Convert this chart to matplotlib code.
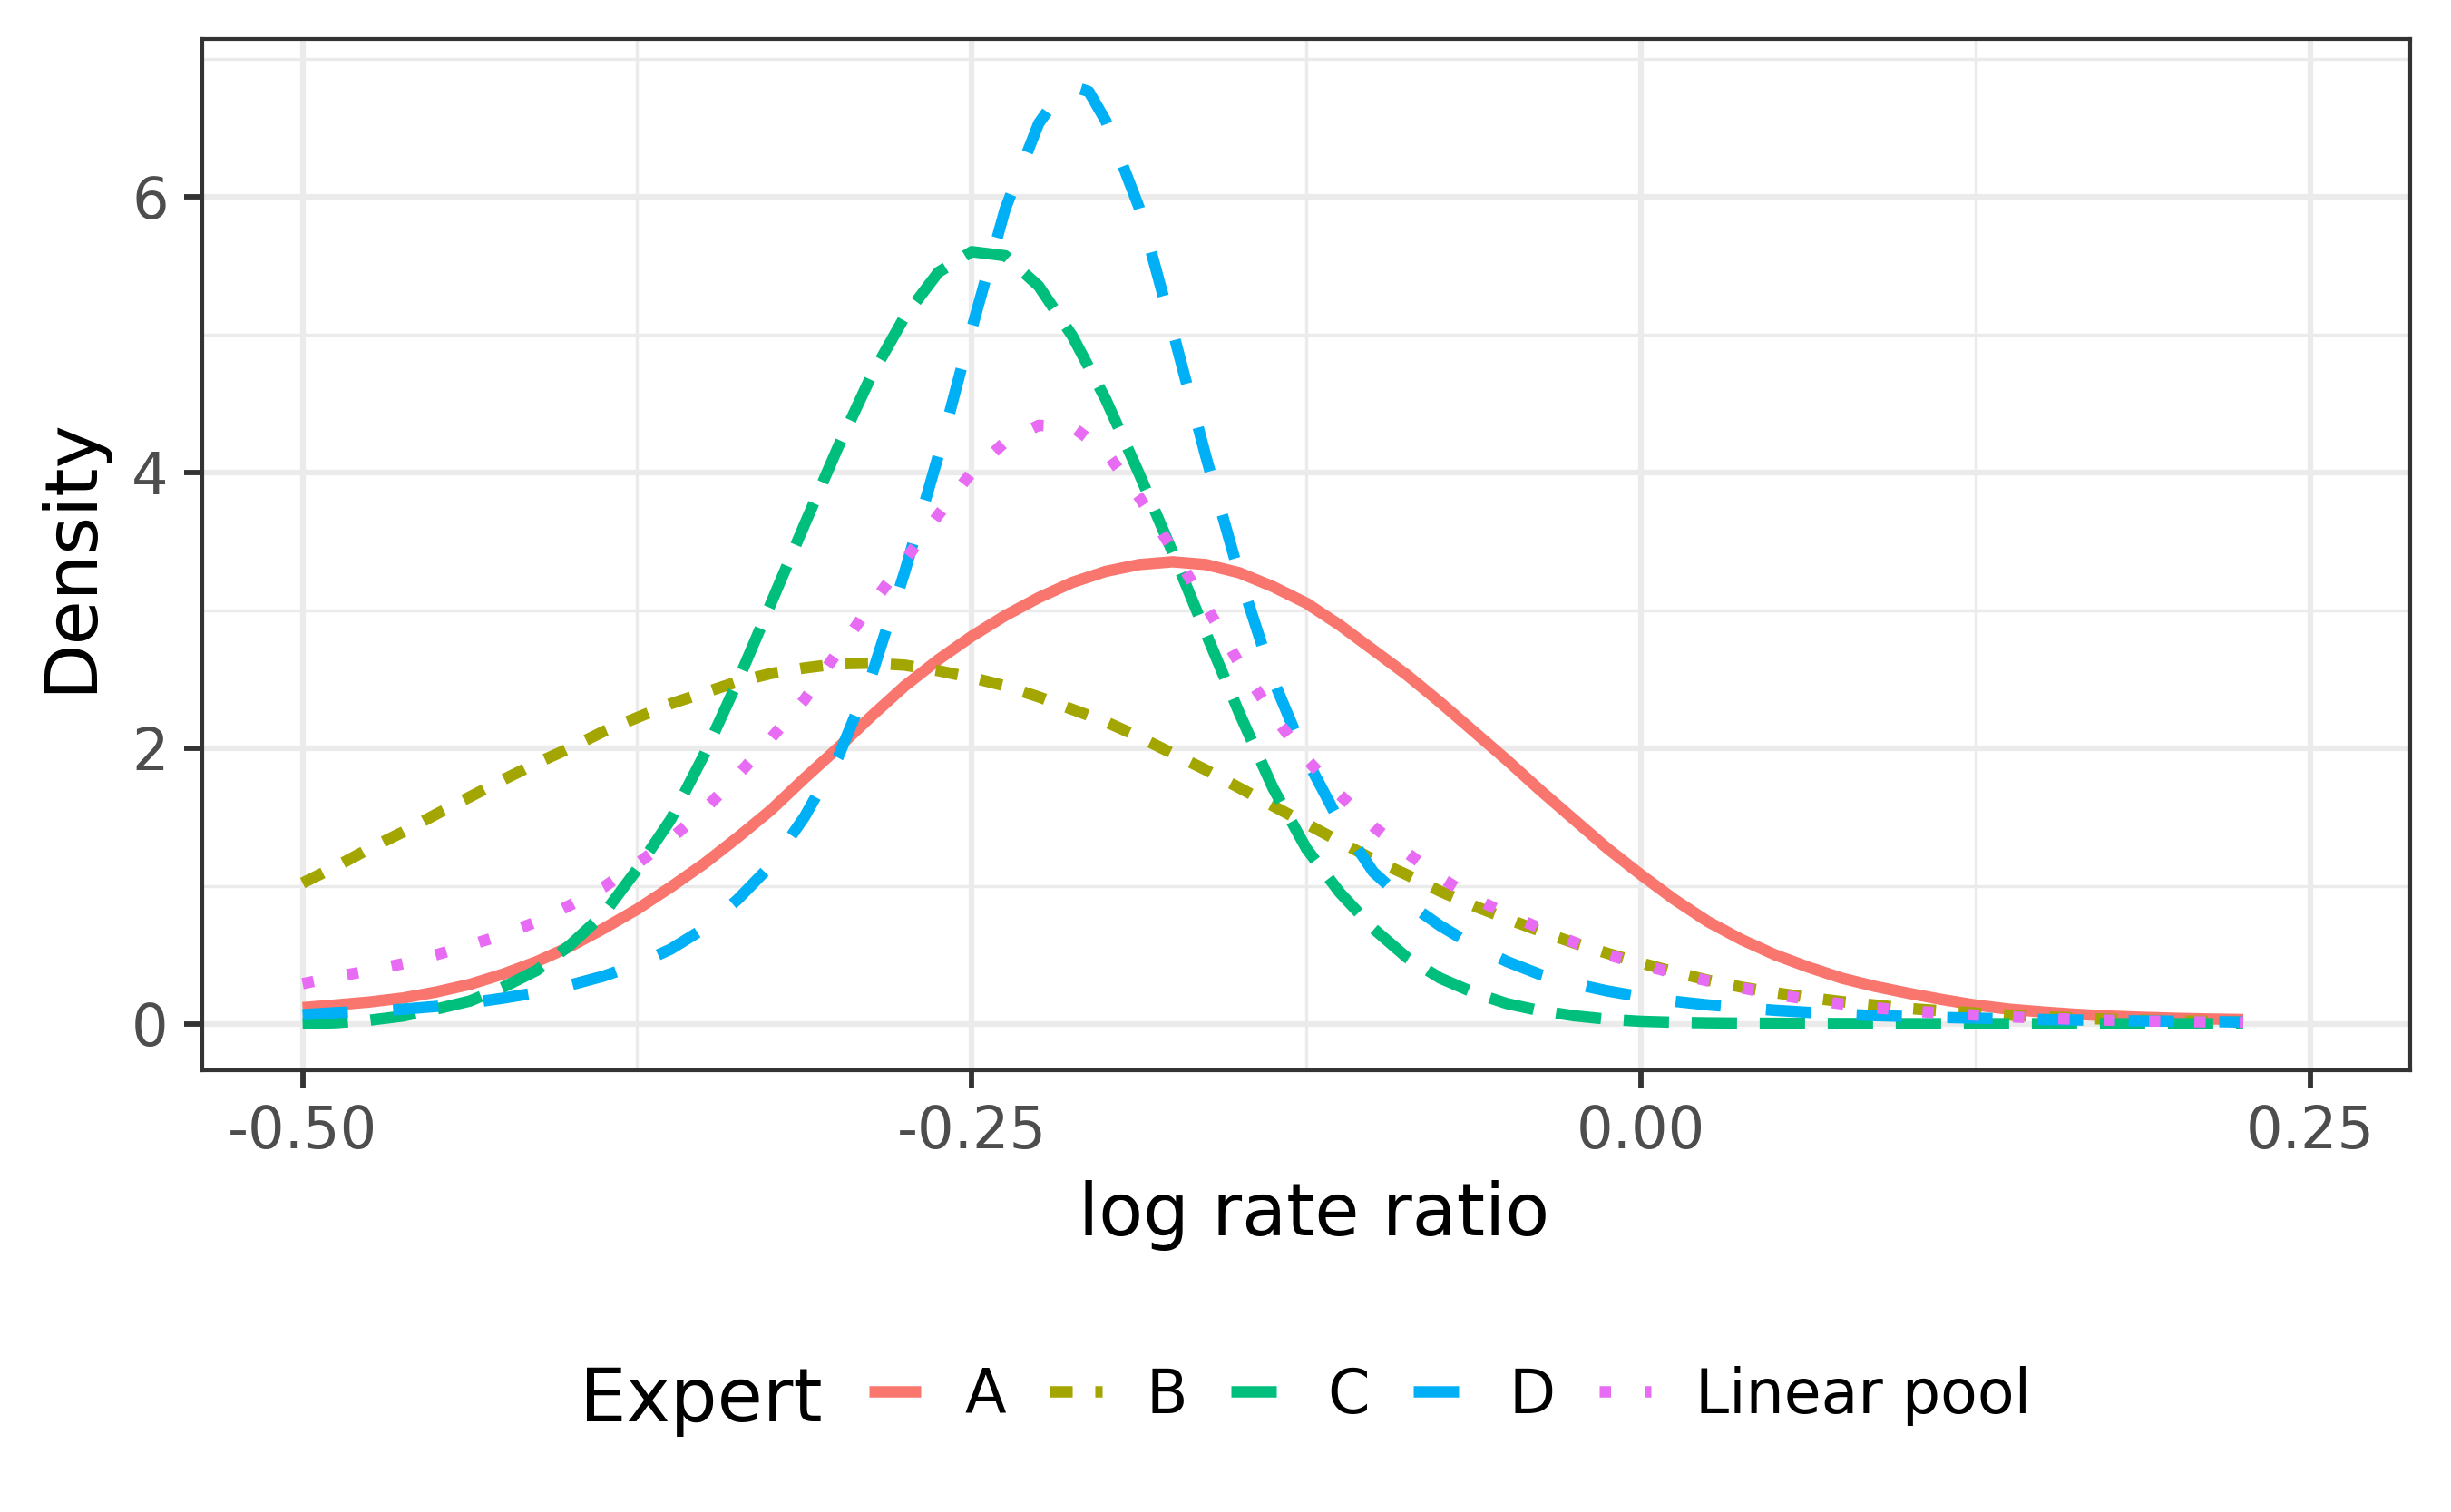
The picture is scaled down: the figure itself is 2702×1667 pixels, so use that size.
import matplotlib
matplotlib.use('Agg')
import matplotlib.pyplot as plt
from matplotlib.lines import Line2D

# values
x_grid = [-0.5, -0.4875, -0.475, -0.4625, -0.45, -0.4375, -0.425, -0.4125, -0.4, -0.3875,
          -0.375, -0.3625, -0.35, -0.3375, -0.325, -0.3125, -0.3, -0.2875, -0.275, -0.2625,
          -0.25, -0.2375, -0.225, -0.2125, -0.2, -0.1875, -0.175, -0.1625, -0.15, -0.1375,
          -0.125, -0.1125, -0.1, -0.0875, -0.075, -0.0625, -0.05, -0.0375, -0.025, -0.0125,
          0.0, 0.0125, 0.025, 0.0375, 0.05, 0.0625, 0.075, 0.0875, 0.1, 0.1125,
          0.125, 0.1375, 0.15, 0.1625, 0.175, 0.1875, 0.2, 0.2125, 0.225]

expert_a = [0.116, 0.136, 0.157, 0.186, 0.23, 0.285, 0.36, 0.45, 0.56, 0.69,
            0.83, 0.99, 1.16, 1.35, 1.55, 1.78, 2.0, 2.23, 2.45, 2.64,
            2.81, 2.96, 3.09, 3.2, 3.28, 3.33, 3.35, 3.33, 3.27, 3.17,
            3.05, 2.89, 2.71, 2.53, 2.33, 2.12, 1.91, 1.69, 1.48, 1.27,
            1.08, 0.9, 0.74, 0.61, 0.5, 0.41, 0.33, 0.27, 0.22, 0.175,
            0.135, 0.105, 0.085, 0.068, 0.055, 0.046, 0.039, 0.034, 0.03]

expert_b = [1.02, 1.14, 1.27, 1.39, 1.52, 1.645, 1.77, 1.89, 2.0, 2.12,
            2.22, 2.32, 2.4, 2.48, 2.54, 2.58, 2.61, 2.615, 2.6, 2.56,
            2.51, 2.45, 2.37, 2.28, 2.19, 2.08, 1.96, 1.84, 1.71, 1.58,
            1.45, 1.32, 1.19, 1.08, 0.96, 0.855, 0.76, 0.67, 0.585, 0.51,
            0.44, 0.375, 0.315, 0.265, 0.225, 0.19, 0.16, 0.135, 0.11, 0.093,
            0.077, 0.062, 0.05, 0.04, 0.032, 0.025, 0.02, 0.016, 0.012]

expert_c = [0.0, 0.007, 0.025, 0.055, 0.106, 0.164, 0.265, 0.387, 0.571, 0.796,
            1.12, 1.48, 1.95, 2.48, 3.05, 3.62, 4.18, 4.7, 5.13, 5.45,
            5.6, 5.57, 5.35, 4.99, 4.53, 3.99, 3.42, 2.83, 2.25, 1.71,
            1.27, 0.95, 0.69, 0.48, 0.33, 0.225, 0.145, 0.093, 0.057, 0.032,
            0.017, 0.01, 0.006, 0.004, 0.003, 0.002, 0.001, 0.001, 0.0, 0.0,
            0.0, 0.0, 0.0, 0.0, 0.0, 0.0, 0.0, 0.0, 0.0]

# expert D is read a little finer around its sharp peak
d_x = [-0.5, -0.4875, -0.475, -0.4625, -0.45, -0.4375, -0.425, -0.4125, -0.4, -0.3875,
       -0.375, -0.3625, -0.35, -0.3375, -0.325, -0.3125, -0.3, -0.2875, -0.275, -0.2625,
       -0.25, -0.2375, -0.225, -0.21875, -0.2125, -0.20625, -0.2, -0.1875, -0.175, -0.1625,
       -0.15, -0.1375, -0.125, -0.1125, -0.1, -0.0875, -0.075, -0.0625, -0.05, -0.0375,
       -0.025, -0.0125, 0.0, 0.0125, 0.025, 0.0375, 0.05, 0.0625, 0.075, 0.0875,
       0.1, 0.1125, 0.125, 0.1375, 0.15, 0.1625, 0.175, 0.1875, 0.2, 0.2125, 0.225]
expert_d = [0.065, 0.08, 0.09, 0.105, 0.125, 0.15, 0.185, 0.225, 0.28, 0.345,
            0.43, 0.54, 0.69, 0.9, 1.15, 1.5, 1.93, 2.52, 3.28, 4.12,
            5.04, 5.91, 6.53, 6.7, 6.8, 6.76, 6.55, 5.92, 5.03, 4.11,
            3.25, 2.5, 1.92, 1.46, 1.1, 0.88, 0.71, 0.565, 0.45, 0.355,
            0.29, 0.237, 0.195, 0.162, 0.136, 0.116, 0.097, 0.082, 0.07, 0.058,
            0.052, 0.045, 0.04, 0.035, 0.03, 0.027, 0.023, 0.02, 0.018, 0.015, 0.012]

linear_pool = [0.29, 0.34, 0.385, 0.435, 0.5, 0.57, 0.645, 0.74, 0.86, 0.99,
               1.16, 1.34, 1.55, 1.8, 2.07, 2.35, 2.7, 3.04, 3.36, 3.69,
               4.0, 4.22, 4.34, 4.33, 4.15, 3.82, 3.44, 3.03, 2.61, 2.24,
               1.92, 1.66, 1.43, 1.24, 1.06, 0.91, 0.795, 0.69, 0.59, 0.5,
               0.43, 0.365, 0.31, 0.26, 0.213, 0.175, 0.143, 0.115, 0.093, 0.077,
               0.062, 0.05, 0.04, 0.032, 0.025, 0.02, 0.016, 0.012, 0.01]

labels = ['A', 'B', 'C', 'D', 'Linear pool']
colors = ['#F8766D', '#A3A500', '#00BF7D', '#00B0F6', '#E76BF3']
styles = ['-', (0, (2, 2)), (0, (4, 2)), (0, (4, 4)), (0, (1, 3))]

xticks = [-0.5, -0.25, 0.0, 0.25]
xtick_labels = ['-0.50', '-0.25', '0.00', '0.25']
yticks = [0, 2, 4, 6]

plt.rcParams['font.family'] = ['DejaVu Sans']

fig = plt.figure(figsize=(2702 / 300, 1667 / 300), dpi=300)
ax = fig.add_axes([0.0825, 0.292, 0.901, 0.682])

lw = 3.0
series = [(x_grid, expert_a), (x_grid, expert_b), (x_grid, expert_c), (d_x, expert_d), (x_grid, linear_pool)]
for (xs, ys), lab, col, ls in zip(series, labels, colors, styles):
    ax.plot(xs, ys, color=col, linestyle=ls, lw=lw, label=lab,
            solid_capstyle='butt', dash_capstyle='butt', solid_joinstyle='round', zorder=3)

ax.set_xlim(-0.5375, 0.2875)
ax.set_ylim(-0.34, 7.14)
ax.set_xticks(xticks)
ax.set_xticklabels(xtick_labels)
ax.set_yticks(yticks)
ax.set_xticks([-0.375, -0.125, 0.125], minor=True)
ax.set_yticks([1, 3, 5, 7], minor=True)

ax.set_axisbelow(True)
ax.grid(which='major', color='#EBEBEB', lw=1.5)
ax.grid(which='minor', color='#EBEBEB', lw=0.8)
for s in ax.spines.values():
    s.set_color('#333333')
    s.set_linewidth(1.0)

ax.tick_params(which='major', length=4.9, width=1.4, color='#333333',
               labelsize=15.3, labelcolor='#4D4D4D', pad=4)
ax.tick_params(which='minor', length=0)

fig.text(0.536, 0.196, 'log rate ratio', ha='center', va='center', fontsize=19.2, color='black')
fig.text(0.029, 0.633, 'Density', ha='center', va='center', rotation=90, fontsize=19.2, color='black')

# legend along the bottom, title on the left
fig.text(0.2365, 0.0735, 'Expert', ha='left', va='center', fontsize=19.6, color='black')
handles = [Line2D([], [], color=c, linestyle=ls, lw=lw, solid_capstyle='butt', dash_capstyle='butt')
           for c, ls in zip(colors, styles)]
fig.legend(handles, labels, loc='center left', bbox_to_anchor=(0.3545, 0.077),
           ncol=5, frameon=False, fontsize=16, handlelength=0.86, handletextpad=0.73,
           columnspacing=0.72, borderpad=0, borderaxespad=0)

fig.savefig('out.png', dpi=300)
